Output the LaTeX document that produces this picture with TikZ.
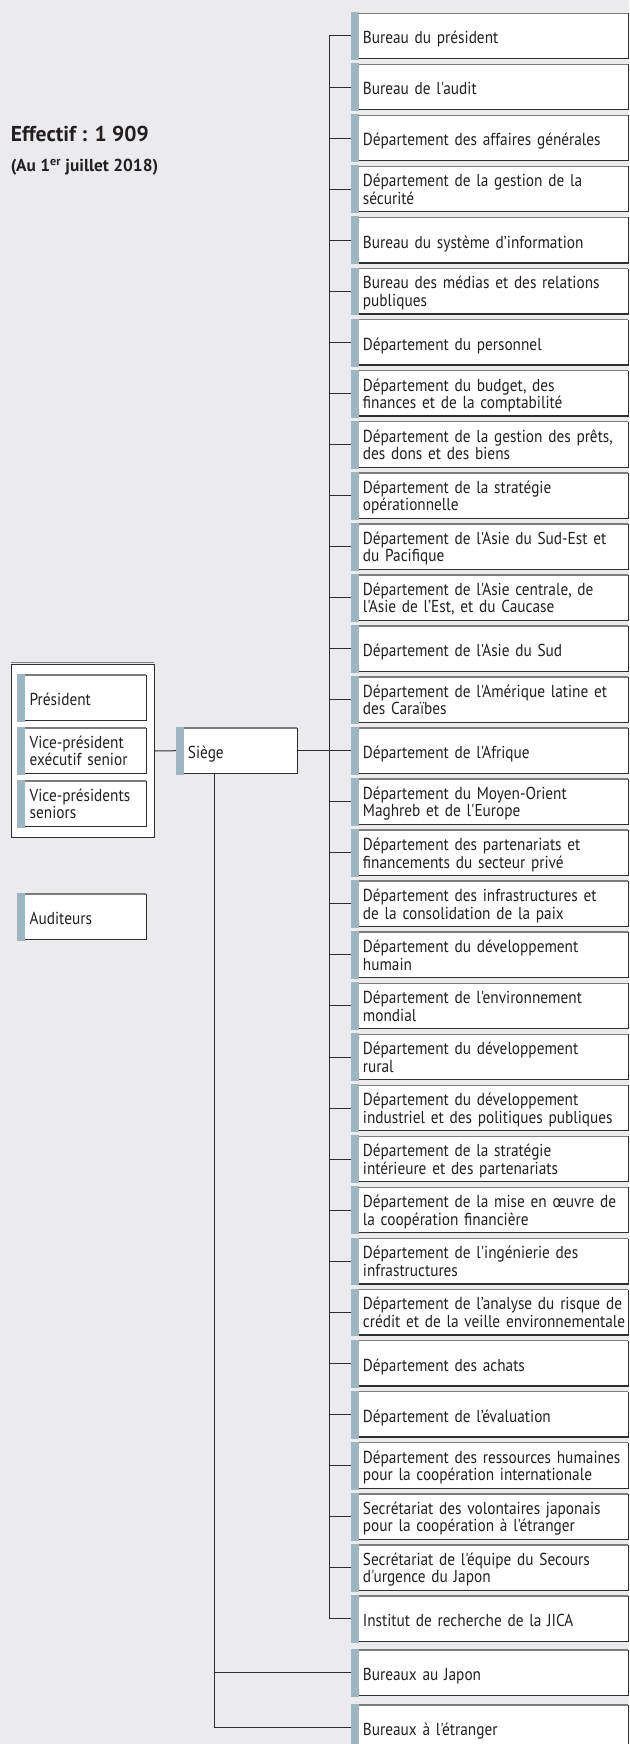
\documentclass[tikz,border=0pt]{standalone}
\usepackage{fontspec}
\newfontfamily\lab{PT Sans}[FakeStretch=0.885]
\newfontfamily\tit{PT Sans}
\definecolor{bgc}{HTML}{EBEBED}
\definecolor{barc}{HTML}{9DB6C1}
\definecolor{txtc}{HTML}{231F20}
\definecolor{darkl}{HTML}{2E2E2E}
\definecolor{grayl}{HTML}{7C7C7C}
\newcommand\boxdeco[1]{%
  \fill[barc] ([xshift=-7.7pt,yshift=1pt]#1.north west) rectangle ([yshift=-1.5pt]#1.south west);
  \draw[topl] (#1.north west) -- (#1.north east);
  \draw[botl] (#1.south west) -- (#1.south east) -- (#1.north east);
}
\newcommand\lx[1]{\mbox{#1}}
\tikzset{
  topl/.style={draw=grayl, line width=1.5pt},
  botl/.style={draw=darkl, line width=1.2pt},
  conn/.style={draw=darkl, line width=1pt},
  basebox/.style={rectangle, fill=white, anchor=north west, minimum height=45pt,
    inner ysep=0pt, align=left, text=txtc, font=\lab\fontsize{17.3}{17.5}\selectfont},
  rbox/.style={basebox, inner xsep=4pt, text width=261.3pt},
  lbox/.style={basebox, inner xsep=4.5pt, text width=112pt},
  sbox/.style={basebox, inner xsep=4pt, text width=105.3pt},
  one/.style={text height=30.3pt, text depth=14.7pt},
  two/.style={text height=20.2pt, text depth=24.8pt},
}
\begin{document}
\begin{tikzpicture}[x=1pt,y=-1pt]
\useasboundingbox (0,0) rectangle (629,1744);
\fill[bgc] (0,0) rectangle (629,1744);

% title
\node[anchor=base west, inner sep=0pt, text=txtc, font=\tit\bfseries\fontsize{21.5}{24}\selectfont] (eff) at (10.6,141.7) {Effectif : 1 909};
\node[anchor=base west, inner sep=0pt, text=txtc, font=\tit\bfseries\fontsize{17.3}{19}\selectfont] (date) at (10.6,171.7) {(Au 1\textsuperscript{er} juillet 2018)};

% right column
\node[rbox,one] (b1) at (358.7,13.3) {\lx{Bureau du président}};
\node[rbox,one] (b2) at (358.7,64.35) {\lx{Bureau de l'audit}};
\node[rbox,one] (b3) at (358.7,115.4) {\lx{Département des affaires générales}};
\node[rbox,two] (b4) at (358.7,166.45) {\lx{Département de la gestion de la}\\\lx{sécurité}};
\node[rbox,one] (b5) at (358.7,217.5) {\lx{Bureau du système d’information}};
\node[rbox,two] (b6) at (358.7,268.55) {\lx{Bureau des médias et des relations}\\\lx{publiques}};
\node[rbox,one] (b7) at (358.7,319.6) {\lx{Département du personnel}};
\node[rbox,two] (b8) at (358.7,370.65) {\lx{Département du budget, des}\\\lx{finances et de la comptabilité}};
\node[rbox,two] (b9) at (358.7,421.7) {\lx{Département de la gestion des prêts,}\\\lx{des dons et des biens}};
\node[rbox,two] (b10) at (358.7,472.75) {\lx{Département de la stratégie}\\\lx{opérationnelle}};
\node[rbox,two] (b11) at (358.7,523.8) {\lx{Département de l'Asie du Sud-Est et}\\\lx{du Pacifique}};
\node[rbox,two] (b12) at (358.7,574.85) {\lx{Département de l'Asie centrale, de}\\\lx{l'Asie de l’Est, et du Caucase}};
\node[rbox,one] (b13) at (358.7,625.9) {\lx{Département de l'Asie du Sud}};
\node[rbox,two] (b14) at (358.7,676.95) {\lx{Département de l'Amérique latine et}\\\lx{des Caraïbes}};
\node[rbox,one] (b15) at (358.7,728.0) {\lx{Département de l'Afrique}};
\node[rbox,two] (b16) at (358.7,779.05) {\lx{Département du Moyen-Orient}\\\lx{Maghreb et de l'Europe}};
\node[rbox,two] (b17) at (358.7,830.1) {\lx{Département des partenariats et}\\\lx{financements du secteur privé}};
\node[rbox,two] (b18) at (358.7,881.15) {\lx{Département des infrastructures et}\\\lx{de la consolidation de la paix}};
\node[rbox,two] (b19) at (358.7,932.2) {\lx{Département du développement}\\\lx{humain}};
\node[rbox,two] (b20) at (358.7,983.25) {\lx{Département de l'environnement}\\\lx{mondial}};
\node[rbox,two] (b21) at (358.7,1034.3) {\lx{Département du développement}\\\lx{rural}};
\node[rbox,two] (b22) at (358.7,1085.35) {\lx{Département du développement}\\\lx{industriel et des politiques publiques}};
\node[rbox,two] (b23) at (358.7,1136.4) {\lx{Département de la stratégie}\\\lx{intérieure et des partenariats}};
\node[rbox,two] (b24) at (358.7,1187.45) {\lx{Département de la mise en œuvre de}\\\lx{la coopération financière}};
\node[rbox,two] (b25) at (358.7,1238.5) {\lx{Département de l'ingénierie des}\\\lx{infrastructures}};
\node[rbox,two] (b26) at (358.7,1289.55) {\lx{Département de l’analyse du risque de}\\\lx{crédit et de la veille environnementale}};
\node[rbox,one] (b27) at (358.7,1340.6) {\lx{Département des achats}};
\node[rbox,one] (b28) at (358.7,1391.65) {\lx{Département de l’évaluation}};
\node[rbox,two] (b29) at (358.7,1442.7) {\lx{Département des ressources humaines}\\\lx{pour la coopération internationale}};
\node[rbox,two] (b30) at (358.7,1493.75) {\lx{Secrétariat des volontaires japonais}\\\lx{pour la coopération à l'étranger}};
\node[rbox,two] (b31) at (358.7,1544.8) {\lx{Secrétariat de l'équipe du Secours}\\\lx{d'urgence du Japon}};
\node[rbox,one] (b32) at (358.7,1595.85) {\lx{Institut de recherche de la JICA}};
\node[rbox,one] (b33) at (358.7,1650) {\lx{Bureaux au Japon}};
\node[rbox,one] (b34) at (358.7,1705) {\lx{Bureaux à l'étranger}};
\foreach \n in {1,...,34} {\boxdeco{b\n}}

% left group
\draw[topl] (10.7,662.6) -- (153.7,662.6);
\node[rectangle, draw=darkl, line width=1pt, fill=white, anchor=north west,
  minimum width=143pt, minimum height=173pt, inner sep=0pt] (grp) at (10.7,664) {};
\node[lbox,one] (pres) at (25,675) {\lx{Président}};
\node[lbox,two] (vpe) at (25,728) {\lx{Vice-président}\\\lx{exécutif senior}};
\node[lbox,two] (vps) at (25,781) {\lx{Vice-présidents}\\\lx{seniors}};
\node[lbox,one] (aud) at (25,894) {\lx{Auditeurs}};
\node[sbox,one] (siege) at (183.7,728) {\lx{Siège}};
\foreach \m in {pres,vpe,vps,aud,siege} {\boxdeco{\m}}

% connectors
\coordinate (spine) at (329,0);
\coordinate (sv) at (214,0);
\draw[conn] (grp.east) -- ([xshift=-7.7pt]siege.west);
\draw[conn] (siege.east) -- (spine |- siege.east);
\draw[conn] (spine |- b1.west) -- (spine |- b32.west);
\foreach \n in {1,...,32} {\draw[conn] (spine |- b\n.west) -- ([xshift=-7.7pt]b\n.west);}
\draw[conn] (sv |- siege.south) -- (sv |- b34.west) -- ([xshift=-7.7pt]b34.west);
\draw[conn] (sv |- b33.west) -- ([xshift=-7.7pt]b33.west);
\end{tikzpicture}
\end{document}
